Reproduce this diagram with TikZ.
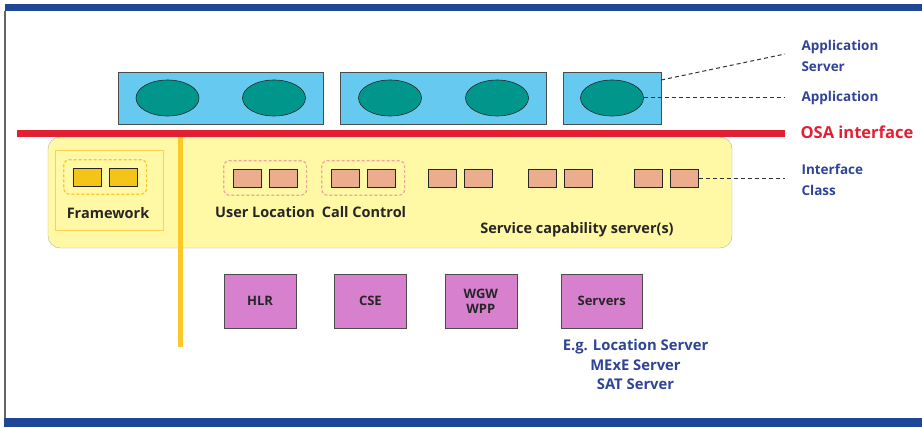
\documentclass[tikz,border=0pt]{standalone}
\usepackage{fontspec}
\setmainfont{Open Sans}
\usepackage{tikz}
\usetikzlibrary{positioning, shapes.geometric, fit}

\definecolor{barblue}{RGB}{30,72,150}
\definecolor{lblblue}{RGB}{48,68,150}
\definecolor{osared}{RGB}{226,32,52}
\definecolor{skybox}{RGB}{102,202,240}
\definecolor{appteal}{RGB}{0,150,140}
\definecolor{scsyellow}{RGB}{255,248,165}
\definecolor{fworange}{RGB}{250,200,40}
\definecolor{fwsquare}{RGB}{245,196,25}
\definecolor{ifsalmon}{RGB}{236,172,142}
\definecolor{ifdash}{RGB}{240,165,160}
\definecolor{netpurple}{RGB}{214,128,206}

\tikzset{
x=1pt, y=-1pt, % pixel like coordinates, y grows downwards
appserver/.style={draw=black!70, fill=skybox, minimum height=52pt, inner sep=0pt}, % application server box
app/.style={ellipse, draw=black!85, semithick, fill=appteal, minimum width=63pt, minimum height=36pt}, % one application
fwsq/.style={draw=black!85, fill=fwsquare, minimum width=28pt, minimum height=18pt, inner sep=0pt}, % framework interface
ifsq/.style={draw=black!85, fill=ifsalmon, minimum width=28pt, minimum height=18pt, inner sep=0pt}, % interface class
group/.style={line width=1.2pt, dash pattern=on 3pt off 2pt, rounded corners=5pt, inner xsep=9pt, inner ysep=8pt}, % dashed group round two classes
netbox/.style={draw=black!70, fill=netpurple, minimum width=72pt, minimum height=54pt, font=\fontsize{13}{15}\selectfont\bfseries, text=black!85}, % network element
blacklbl/.style={font=\fontsize{14.5}{16}\selectfont\bfseries, text=black!85}, % labels inside the yellow box
bluelbl/.style={font=\fontsize{13.5}{21}\selectfont\bfseries, text=lblblue}, % blue labels
leader/.style={line width=1pt, dash pattern=on 4pt off 3pt, black!80}, % dashed pointer lines
}

\begin{document}
\begin{tikzpicture}
    \useasboundingbox (0,0) rectangle (922,428);

    % frame
    \fill[barblue] (5,4) rectangle (922,11);
    \fill[barblue] (4,418) rectangle (922,427);
    \draw[black!60, line width=1.2pt] (5,11) -- (5,418);

    % service capability servers
    \node[draw=black!30, fill=scsyellow, rounded corners=12pt, minimum width=684pt, minimum height=111pt] (scs) at (390,192.5) {};
    \draw[fworange, line width=5pt] (180,136) -- (180,347);
    \draw[osared, line width=7pt] (17,133) -- (785,133);

    % application servers
    \node[appserver, minimum width=205pt] (as1) at (220.5,98) {};
    \node[appserver, minimum width=206pt] (as2) at (443,98) {};
    \node[appserver, minimum width=98pt] (as3) at (612,98) {};
    \node[app] (app1) at (167.5,98) {};
    \node[app] (app2) at (274,98) {};
    \node[app] (app3) at (390,98) {};
    \node[app] (app4) at (497,98) {};
    \node[app] (app5) at (612,98) {};

    % framework
    \draw[fworange!80, thin] (55,150) rectangle (163,230);
    \node[fwsq] (fw1) at (87,177) {};
    \node[fwsq, right=8pt of fw1] (fw2) {};
    \node[group, draw=fworange, fit=(fw1)(fw2)] (fwbox) {};
    \node[blacklbl] (fwlabel) at (108,213) {Framework};

    % interface classes
    \node[ifsq] (ul1) at (247,178) {};
    \node[ifsq, right=8pt of ul1] (ul2) {};
    \node[ifsq] (cc1) at (345,178) {};
    \node[ifsq, right=8pt of cc1] (cc2) {};
    \node[ifsq] (sc1) at (442,178) {};
    \node[ifsq, right=8pt of sc1] (sc2) {};
    \node[ifsq] (sc3) at (542,178) {};
    \node[ifsq, right=8pt of sc3] (sc4) {};
    \node[ifsq] (sc5) at (648,178) {};
    \node[ifsq, right=8pt of sc5] (sc6) {};
    \node[group, draw=ifdash, fit=(ul1)(ul2)] (ulbox) {};
    \node[group, draw=ifdash, fit=(cc1)(cc2)] (ccbox) {};
    \node[blacklbl] (ullabel) at (265,212) {User Location};
    \node[blacklbl] (cclabel) at (364,212) {Call Control};
    \node[blacklbl] (scslabel) at (577,230) {Service capability server(s)};

    % network elements
    \node[netbox] (hlr) at (260,301) {HLR};
    \node[netbox, right=38pt of hlr] (cse) {CSE};
    \node[netbox, right=38pt of cse, align=center] (wgw) {WGW\\WPP};
    \node[netbox, right=44pt of wgw, minimum width=81pt] (srv) {Servers};
    \node[bluelbl, font=\fontsize{14.8}{19.5}\selectfont\bfseries, align=center] (srvlist) at (635.5,364.5) {E.g. Location Server\\MExE Server\\SAT Server};

    % legend
    \coordinate (asend) at (785,54);
    \coordinate (append) at (785,98);
    \coordinate (ifend) at (785,178);
    \node[bluelbl, anchor=west, align=left] (aslabel) at (798,55.5) {Application\\Server};
    \node[bluelbl, anchor=west] (applabel) at (798,98) {Application};
    \node[font=\fontsize{16.5}{18}\selectfont\bfseries, text=osared, anchor=west] (osalabel) at (797,132) {OSA interface};
    \node[bluelbl, anchor=west, align=left] (iflabel) at (798,179.5) {Interface\\Class};
    \draw[leader] ([yshift=18pt]as3.east) -- (asend);
    \draw[leader] (app5.east) -- (append);
    \draw[leader] (sc6.east) -- (ifend);
\end{tikzpicture}
\end{document}
